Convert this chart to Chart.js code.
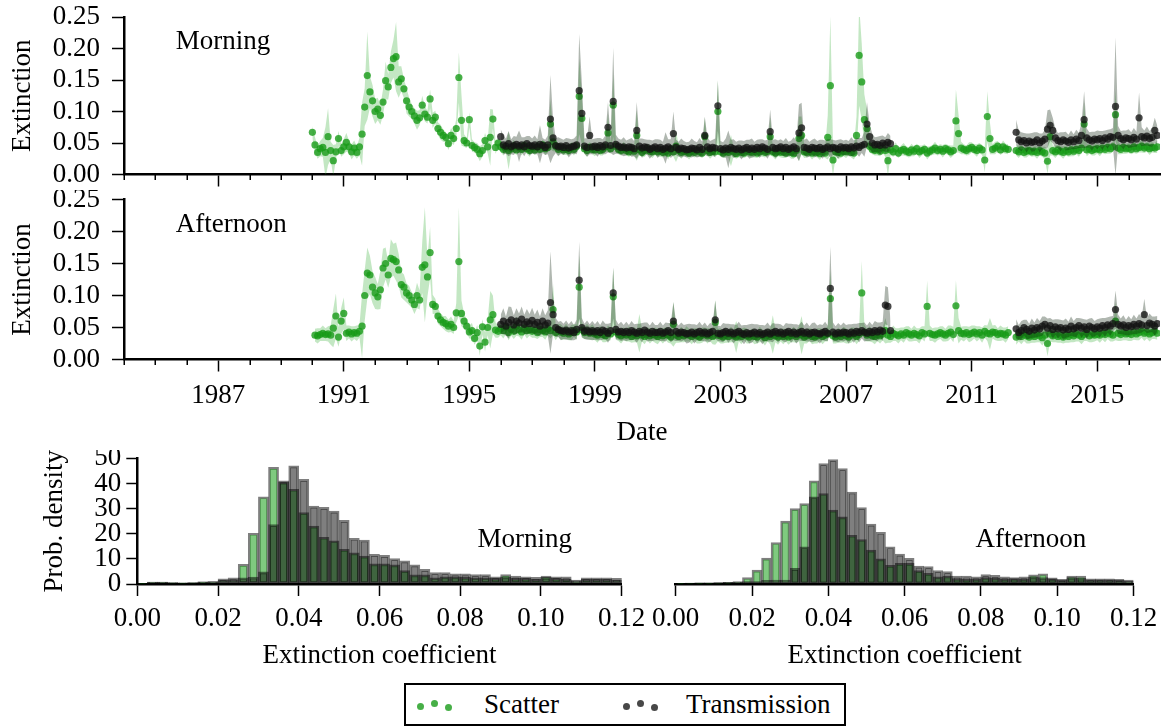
<!DOCTYPE html>
<html>
<head>
<meta charset="utf-8">
<script src="https://cdn.jsdelivr.net/npm/chart.js@4.4.1/dist/chart.umd.min.js"></script>
<style>
html,body{margin:0;padding:0;background:#fff;}
body{width:1164px;height:727px;position:relative;overflow:hidden;font-family:"Liberation Serif",serif;}
canvas{position:absolute;}
#legend{position:absolute;left:404px;top:683px;width:442px;height:43px;box-sizing:border-box;border:2px solid #000;background:#fff;}
#legend .dot{position:absolute;width:7px;height:7px;border-radius:50%;}
#legend .g{background:rgba(25,155,25,0.8);}
#legend .k{background:rgba(20,20,20,0.78);}
#legend .txt{position:absolute;font-size:27px;line-height:30px;top:4px;color:#000;white-space:nowrap;}
</style>
</head>
<body>
<canvas id="tsMorning" width="1164" height="190" style="left:0;top:0"></canvas>
<canvas id="tsAfternoon" width="1164" height="260" style="left:0;top:190px"></canvas>
<canvas id="histMorning" width="660" height="225" style="left:0;top:450px"></canvas>
<canvas id="histAfternoon" width="524" height="225" style="left:640px;top:450px"></canvas>
<div id="legend">
  <span class="dot g" style="left:11px;top:18px"></span>
  <span class="dot g" style="left:25px;top:15px"></span>
  <span class="dot g" style="left:39px;top:19px"></span>
  <span class="txt" style="left:78px">Scatter</span>
  <span class="dot k" style="left:217px;top:18px"></span>
  <span class="dot k" style="left:231px;top:15px"></span>
  <span class="dot k" style="left:245px;top:19px"></span>
  <span class="txt" style="left:280px">Transmission</span>
</div>
<script>
// ---------------- DATA ----------------
// Time series: monthly samples, values in units of 0.001 (extinction)
const SCATTER_START = 1990;   // first month of scatter series
const TRANS_START = 1996;     // first month of transmission series
const yearTicks = [1987, 1991, 1995, 1999, 2003, 2007, 2011, 2015];

const scatterMorning = [
 67,47,35,41,43,35,60,38,22,36,57,38,
 44,51,44,36,42,35,44,64,107,157,131,117,
 100,104,94,115,149,139,170,184,187,147,152,136,
 117,107,100,93,86,90,110,96,91,120,86,91,
 73,67,62,59,49,62,57,73,154,86,54,50,
 87,46,43,40,33,38,54,44,59,88,43,50,
 44,40,42,38,41,45,39,43,40,46,41,38,
 42,39,44,40,47,41,43,80,52,45,40,42,
 39,41,38,43,40,45,124,89,41,38,43,40,
 39,42,38,40,44,66,41,110,45,40,38,42,
 38,36,40,37,62,39,35,38,41,37,36,39,
 36,38,35,37,34,40,36,45,38,35,37,36,
 34,37,35,38,36,34,60,38,35,37,36,100,
 36,34,37,35,38,36,33,37,35,34,38,36,
 35,37,34,36,38,35,37,60,36,34,37,35,
 36,34,37,35,33,38,57,62,36,35,37,34,
 36,35,33,37,34,59,141,23,36,35,34,37,
 36,38,35,34,62,189,147,87,73,45,40,38,
 40,37,42,38,22,39,36,41,34,38,40,37,
 35,39,37,41,36,38,40,34,37,39,42,38,
 40,37,41,39,36,38,85,65,42,40,38,41,
 43,40,38,42,39,23,92,57,40,42,45,39,
 44,41,40,null,null,38,36,39,35,37,38,36,
 37,35,38,36,34,21,60,38,36,39,37,35,
 38,36,39,37,40,38,42,80,39,41,38,40,
 41,39,42,40,43,41,44,95,42,40,43,41,
 42,40,44,41,43,45,42,44,41,43,42,44
];
const scatterMorningErr = [
 10,12,10,12,15,40,45,14,25,12,12,10,
 12,15,10,12,12,10,14,50,30,70,25,25,
 20,18,15,20,30,20,25,30,55,25,20,15,
 20,15,12,12,15,12,15,12,10,15,12,10,
 10,12,10,8,10,12,10,15,40,40,10,8,
 12,10,8,10,12,10,12,10,45,15,10,8,
 8,10,8,30,8,10,8,8,10,8,8,10,
 8,8,10,8,8,10,8,40,15,8,10,8,
 8,10,8,8,10,8,60,40,8,10,8,8,
 10,8,8,10,8,30,8,50,10,8,8,10,
 8,8,10,8,40,8,8,10,8,8,10,8,
 8,10,8,8,10,8,8,25,8,10,8,8,
 10,8,8,10,8,8,30,8,10,8,8,50,
 8,8,10,8,25,8,8,10,8,8,10,8,
 8,10,8,8,10,8,8,30,8,10,8,8,
 10,8,8,10,8,8,35,30,10,8,8,10,
 8,8,10,8,8,35,110,25,8,10,8,8,
 10,8,8,10,30,80,60,40,30,10,8,8,
 10,8,8,10,25,8,8,10,8,8,10,8,
 8,10,8,8,10,8,8,10,8,8,10,8,
 8,10,8,8,10,8,50,30,10,8,8,10,
 8,8,10,8,8,20,40,25,8,10,8,8,
 10,8,8,null,null,8,10,8,8,10,8,8,
 8,10,8,8,10,20,30,8,10,8,8,10,
 8,8,10,8,8,10,8,35,10,8,8,10,
 8,10,8,8,10,8,8,40,10,8,10,8,
 8,8,10,8,8,10,8,8,10,8,8,10
];
const transMorning = [
 60,47,45,49,44,46,48,45,47,44,49,46,
 45,47,44,48,46,43,47,88,58,46,44,45,
 43,46,42,44,45,47,133,97,45,43,62,44,
 45,43,46,44,47,75,46,116,48,45,43,44,
 42,44,43,41,70,45,42,44,43,40,42,44,
 41,43,40,42,44,41,65,43,40,42,41,39,
 40,42,41,39,43,40,62,44,41,43,42,109,
 41,39,42,40,43,41,40,42,39,41,43,40,
 42,40,43,41,44,42,40,68,43,41,42,44,
 41,43,40,42,44,41,66,74,43,42,40,43,
 42,41,43,40,42,44,41,43,42,40,44,42,
 43,41,44,42,45,43,46,48,80,60,50,47,
 48,46,50,47,51,49,null,null,null,null,null,null,
 null,null,null,null,null,null,null,null,null,null,null,null,
 null,null,null,null,null,null,null,null,null,null,null,null,
 null,null,null,null,null,null,null,null,null,null,null,null,
 null,null,null,null,null,67,55,52,54,50,53,51,
 52,55,50,53,56,72,78,70,58,54,52,55,
 53,51,55,52,56,54,62,87,58,55,53,56,
 55,57,54,58,56,60,59,108,62,57,55,58,
 57,55,59,56,90,60,58,61,57,59,70,62
];
const transMorningErr = [
 12,15,12,20,12,15,12,25,12,15,12,15,
 12,15,12,30,12,12,15,70,30,12,15,12,
 12,12,15,12,12,15,90,50,12,15,30,12,
 12,15,12,12,15,40,12,85,15,12,12,15,
 12,12,15,12,45,12,15,12,12,15,12,12,
 15,12,12,25,12,15,35,12,12,15,12,12,
 12,15,12,12,15,12,30,15,12,12,15,40,
 12,12,15,30,12,15,12,12,15,12,12,15,
 15,12,12,15,12,12,15,35,12,15,12,12,
 12,15,12,12,15,12,45,40,12,15,12,12,
 15,12,12,15,12,12,15,12,12,15,12,12,
 12,12,15,12,12,15,12,20,35,20,15,12,
 12,15,12,12,15,12,null,null,null,null,null,null,
 null,null,null,null,null,null,null,null,null,null,null,null,
 null,null,null,null,null,null,null,null,null,null,null,null,
 null,null,null,null,null,null,null,null,null,null,null,null,
 null,null,null,null,null,20,15,15,12,15,12,15,
 15,12,15,12,15,30,25,20,15,12,15,12,
 15,12,15,12,15,12,20,45,15,12,15,12,
 15,12,15,12,15,12,15,110,15,12,15,12,
 15,12,15,12,40,15,12,15,12,15,20,15
];
const scatterAfternoon = [
 null,38,37,39,41,39,40,38,49,68,35,60,
 72,41,43,40,42,41,44,52,100,135,132,113,
 104,98,109,143,150,132,158,156,153,140,117,113,
 104,100,93,86,100,93,144,148,129,167,86,83,
 68,62,58,56,52,55,50,73,153,72,60,52,
 43,45,33,42,21,51,27,50,62,70,46,44,
 48,45,50,42,47,44,52,46,43,49,45,47,
 44,46,42,47,45,43,48,45,78,42,46,43,
 41,44,40,42,45,43,113,46,42,44,41,43,
 40,38,42,39,37,41,40,98,43,39,37,40,
 38,40,36,39,37,41,38,36,40,37,39,38,
 36,39,37,40,38,35,55,38,36,39,37,40,
 38,36,39,37,35,38,40,37,39,36,58,38,
 37,35,38,36,39,37,35,38,36,40,37,35,
 38,36,35,39,37,34,38,36,39,37,35,38,
 36,38,35,37,39,36,40,38,35,37,39,36,
 35,37,39,36,38,40,95,37,35,38,36,39,
 37,35,38,40,36,39,104,42,38,40,37,36,
 39,37,40,45,38,36,41,39,37,40,38,42,
 40,38,41,39,37,42,40,83,41,39,38,40,
 42,40,38,41,43,39,84,45,41,40,42,39,
 41,43,40,42,38,44,41,40,43,42,39,41,
 40,38,42,null,null,35,38,36,39,37,35,38,
 36,39,37,34,38,25,40,37,39,36,38,35,
 38,36,39,37,40,38,36,39,41,37,39,38,
 40,38,41,39,42,40,38,60,41,39,42,40,
 41,39,43,40,42,44,41,43,40,42,44,41
];
const scatterAfternoonErr = [
 null,10,12,10,12,10,12,15,30,35,15,20,
 25,12,10,12,10,12,10,50,40,40,30,25,
 25,20,30,30,25,20,30,25,30,25,20,20,
 15,15,12,15,20,15,40,90,30,40,15,12,
 12,10,10,12,10,12,10,15,85,20,12,10,
 10,12,10,12,15,12,15,12,45,30,12,10,
 10,12,10,12,10,12,15,10,12,10,12,10,
 10,12,10,12,10,12,10,12,40,12,10,12,
 10,12,10,12,10,12,50,12,10,12,10,12,
 10,12,10,12,10,12,10,45,12,10,12,10,
 10,12,10,12,10,30,10,12,10,12,10,12,
 12,10,12,10,12,10,35,12,10,12,10,12,
 10,12,10,12,10,12,10,12,10,12,35,10,
 12,10,12,10,12,10,25,10,12,10,12,10,
 10,12,10,12,10,12,10,12,30,10,12,10,
 12,10,12,10,12,10,12,30,10,12,10,12,
 10,12,10,12,10,12,45,12,10,12,10,12,
 12,10,12,10,12,10,50,12,10,12,10,12,
 10,12,10,20,12,10,12,10,12,10,12,10,
 12,10,12,10,12,10,12,40,12,10,12,10,
 10,12,10,12,10,12,40,20,10,12,10,12,
 12,10,12,10,12,10,12,25,10,12,10,12,
 10,12,10,null,null,12,10,12,10,12,10,12,
 10,12,10,12,10,20,12,10,12,10,12,10,
 12,10,12,10,12,10,12,10,12,10,12,10,
 10,12,10,12,10,12,10,30,12,10,12,10,
 12,10,12,10,12,10,12,10,12,10,12,10
];
const transAfternoon = [
 55,60,52,58,62,54,60,57,63,55,59,56,
 61,55,58,52,60,54,57,89,70,50,47,45,
 44,46,43,45,42,47,124,50,44,46,43,45,
 43,45,42,46,44,41,45,104,47,43,44,42,
 44,42,45,43,41,44,42,46,43,41,44,42,
 42,44,41,43,45,42,60,44,41,43,42,40,
 41,43,40,42,44,41,43,40,42,44,62,41,
 40,42,44,41,43,40,42,44,41,39,42,40,
 41,43,40,42,39,41,43,40,42,44,41,43,
 40,42,44,41,43,40,42,44,41,43,40,42,
 43,41,40,42,44,41,111,43,40,42,41,43,
 42,40,43,41,44,42,45,43,41,44,42,45,
 43,46,44,85,83,45,null,null,null,null,null,null,
 null,null,null,null,null,null,null,null,null,null,null,null,
 null,null,null,null,null,null,null,null,null,null,null,null,
 null,null,null,null,null,null,null,null,null,null,null,null,
 null,null,null,null,null,48,42,45,50,47,44,49,
 46,50,48,52,55,49,53,47,51,48,50,46,
 49,47,52,48,50,53,49,51,47,52,50,48,
 51,49,53,50,54,52,56,78,55,52,54,50,
 53,51,55,52,56,54,70,53,57,55,52,56
];
const transAfternoonErr = [
 15,20,15,25,20,15,20,15,20,15,20,15,
 20,15,20,15,20,15,20,80,30,15,12,15,
 12,15,12,15,12,15,60,15,12,15,12,15,
 12,15,12,15,12,15,12,40,15,12,15,12,
 15,12,15,12,15,12,15,12,15,12,15,12,
 12,15,12,15,12,15,30,15,12,15,12,15,
 15,12,15,12,15,12,15,12,15,12,30,12,
 12,15,12,15,12,15,12,15,12,15,12,15,
 15,12,15,12,15,12,15,12,15,12,15,12,
 12,15,12,15,12,15,12,15,12,15,12,15,
 15,12,15,12,15,12,65,15,12,15,12,15,
 12,15,12,15,12,15,12,15,12,15,12,15,
 15,12,15,30,30,15,null,null,null,null,null,null,
 null,null,null,null,null,null,null,null,null,null,null,null,
 null,null,null,null,null,null,null,null,null,null,null,null,
 null,null,null,null,null,null,null,null,null,null,null,null,
 null,null,null,null,null,15,12,15,12,15,12,15,
 12,15,12,15,12,15,12,15,12,15,12,15,
 15,12,15,12,15,12,15,12,15,12,15,12,
 12,15,12,15,12,15,12,30,15,12,15,12,
 15,12,15,12,15,12,25,12,15,12,15,12
];

// Histograms: 48 bins of width 0.0025 from 0 to 0.12 (probability density)
const BIN_WIDTH = 0.0025;
const histScatterMorning = [0.3,0.8,0.8,0.6,0.5,0.6,0.9,1.0,1.6,1.8,7.8,20.2,34.7,46.4,40.5,37.7,28.4,23,18.6,17.2,13.8,12.4,11.1,8,8,7.6,5.3,3.6,3.6,2.5,2.9,2.9,2.7,2.5,2.5,2.3,3.7,2.3,2.3,1.9,3.2,2.3,2,1.3,1.9,1.9,1.9,1.6];
const histTransMorning   = [0.3,0.8,0.8,0.6,0.5,0.6,0.9,1.0,2.1,2.5,2.5,2.8,4.8,23.6,41,47,41.6,31,30.5,29,25.3,18.2,17.5,11.8,11.4,10.1,9.2,7.6,5.8,4.5,4.5,4.0,4.0,3.7,3.7,2.9,2.9,3.2,2.9,2.7,2.7,2.9,2.9,1.6,2.5,2.5,2.5,2.3];
const histScatterAfternoon = [0.3,0.4,0.5,0.5,0.6,0.7,1.0,2.6,5.5,10.3,16.5,25,30,32,41,36,29.4,26.7,19.4,17.7,13.5,10,7.4,8.2,8.2,5.3,4.2,2.9,3.2,2.2,2,2.1,2.6,2.4,2.1,2.2,2.1,3.6,4,2.1,1.6,3.2,3.2,1.7,1.7,1.7,1.5,1.2];
const histTransAfternoon   = [0.3,0.4,0.5,0.5,0.6,0.7,0.8,1.0,1,1.5,1.6,1.6,6.2,14.8,34.7,47.9,49.5,45.9,36.6,30.4,23.8,20.6,14.8,11.9,10.2,7.1,6.9,5.3,4.9,3.2,3.2,2.9,3.7,3.4,2.9,2.6,2.9,2.9,2.6,2.5,1.9,2.6,2.4,2.1,2.1,2.1,1.9,1.6];

// ---------------- RENDERING ----------------
const FAMILY = '"Liberation Serif", serif';
Chart.defaults.font.family = FAMILY;
Chart.defaults.font.size = 27;
Chart.defaults.color = '#000';
const F = {family: FAMILY, size: 27};

const FONT = '27px "Liberation Serif", serif';
const GREEN_PT = 'rgba(25,155,25,0.8)';
const BLACK_PT = 'rgba(20,20,20,0.78)';
const NONE = 'rgba(0,0,0,0)';

const toPts = (vals, start) => vals.map((v, i) => ({x: start + i / 12, y: v == null ? null : v / 1000}));
const bandPts = (vals, errs, start, sign) => vals.map((v, i) => ({
  x: start + i / 12,
  y: (v == null || errs[i] == null) ? null : (v + sign * errs[i]) / 1000
}));

const minorTicks = {
  id: 'minorTicks',
  afterDraw(chart) {
    const o = chart.options.plugins.minorTicks;
    if (!o || !o.length) return;
    const s = chart.scales.x, ctx = chart.ctx;
    ctx.save();
    ctx.strokeStyle = '#000';
    ctx.lineWidth = 1.5;
    s.ticks.forEach(t => {
      if (yearTicks.includes(t.value) || t.value >= s.max) return;
      const px = Math.round(s.getPixelForValue(t.value)) + 0.25;
      ctx.beginPath();
      ctx.moveTo(px, s.top);
      ctx.lineTo(px, s.top + o.length);
      ctx.stroke();
    });
    ctx.restore();
  }
};
const panelText = {
  id: 'panelText',
  afterDatasetsDraw(chart) {
    const o = chart.options.plugins.panelText;
    if (!o || !o.text) return;
    const ctx = chart.ctx;
    ctx.save();
    ctx.font = FONT;
    ctx.fillStyle = '#000';
    ctx.textAlign = o.align;
    ctx.textBaseline = 'middle';
    ctx.fillText(o.text, chart.scales.x.getPixelForValue(o.x), chart.scales.y.getPixelForValue(o.y));
    ctx.restore();
  }
};

function tsChart(id, cfg) {
  const lineBase = {borderWidth: 0, borderColor: NONE, pointRadius: 0, spanGaps: false, tension: 0};
  return new Chart(document.getElementById(id), {
    type: 'line',
    data: {datasets: [
      Object.assign({data: bandPts(cfg.scat, cfg.scatErr, SCATTER_START, 1), fill: '+1', backgroundColor: 'rgba(40,170,40,0.28)', order: 5}, lineBase),
      Object.assign({data: bandPts(cfg.scat, cfg.scatErr, SCATTER_START, -1), fill: false, order: 5}, lineBase),
      {data: toPts(cfg.scat, SCATTER_START), showLine: false, pointRadius: 3.6, pointBackgroundColor: GREEN_PT, pointBorderColor: NONE, pointBorderWidth: 0, order: 4},
      Object.assign({data: bandPts(cfg.trans, cfg.transErr, TRANS_START, 1), fill: '+1', backgroundColor: 'rgba(10,30,10,0.32)', order: 3}, lineBase),
      Object.assign({data: bandPts(cfg.trans, cfg.transErr, TRANS_START, -1), fill: false, order: 3}, lineBase),
      {data: toPts(cfg.trans, TRANS_START), showLine: false, pointRadius: 3.6, pointBackgroundColor: BLACK_PT, pointBorderColor: NONE, pointBorderWidth: 0, order: 1}
    ]},
    options: {
      responsive: false, animation: false, events: [],
      layout: {padding: {left: 0, right: 4, top: cfg.padTop, bottom: 0}, autoPadding: false},
      plugins: {
        legend: {display: false}, tooltip: {enabled: false},
        minorTicks: {length: 5.5},
        panelText: {text: cfg.label, x: 1985.65, y: 0.21, align: 'left'}
      },
      scales: {
        x: {
          type: 'linear', min: 1984, max: 2017,
          ticks: {stepSize: 1, autoSkip: false, maxRotation: 0, padding: 8, font: F, color: '#000',
                  callback: v => (cfg.showLabels && yearTicks.includes(v)) ? String(v) : ''},
          grid: {drawOnChartArea: false, drawTicks: true, tickLength: 12, tickWidth: 1.5,
                 tickColor: c => (c.tick && yearTicks.includes(c.tick.value)) ? '#000' : NONE},
          border: {display: true, width: 2.5, color: '#000'},
          title: {display: cfg.showLabels, text: 'Date', font: F, color: '#000', padding: {top: 0, bottom: 1}},
          afterFit: s => { s.height = cfg.xH; s.paddingLeft = 0; s.paddingRight = 0; }
        },
        y: {
          min: 0, max: 0.25,
          ticks: {stepSize: 0.05, autoSkip: false, padding: 12, font: F, color: '#000', callback: v => v.toFixed(2)},
          grid: {drawOnChartArea: false, tickLength: 12, tickWidth: 1.5, tickColor: '#000'},
          border: {display: true, width: 2.5, color: '#000'},
          title: {display: true, text: 'Extinction', font: F, color: '#000', padding: {top: 7, bottom: 0}},
          afterFit: s => { s.width = 124; s.paddingTop = 0; s.paddingBottom = 0; }
        }
      }
    },
    plugins: [minorTicks, panelText]
  });
}

function histChart(id, scat, trans, cfg) {
  const barBase = {borderColor: 'rgba(0,0,0,0.5)', borderWidth: 2, borderSkipped: false,
                   grouped: false, barPercentage: 1, categoryPercentage: 1};
  return new Chart(document.getElementById(id), {
    type: 'bar',
    data: {datasets: [
      Object.assign({data: scat.map((v, i) => ({x: (i + 0.5) * BIN_WIDTH, y: v})), backgroundColor: 'rgba(0,150,0,0.5)', order: 2}, barBase),
      Object.assign({data: trans.map((v, i) => ({x: (i + 0.5) * BIN_WIDTH, y: v})), backgroundColor: 'rgba(0,0,0,0.5)', order: 1}, barBase)
    ]},
    options: {
      responsive: false, animation: false, events: [],
      layout: {padding: cfg.padding, autoPadding: false},
      plugins: {
        legend: {display: false}, tooltip: {enabled: false},
        panelText: {text: cfg.label, x: cfg.labelX, y: 17.5, align: 'center'}
      },
      scales: {
        x: {
          type: 'linear', min: 0, max: 0.12, offset: false,
          ticks: {stepSize: 0.02, padding: 7, maxRotation: 0, autoSkip: false, font: F, color: '#000', callback: v => v.toFixed(2)},
          grid: {drawOnChartArea: false, tickLength: 12, tickWidth: 1.5, tickColor: '#000', offset: false},
          border: {display: true, width: 2.5, color: '#000'},
          title: {display: true, text: 'Extinction coefficient', font: F, color: '#000', padding: {top: 0, bottom: 3}},
          afterFit: s => { s.height = 91; s.paddingLeft = 0; s.paddingRight = 0; }
        },
        y: {
          display: cfg.showY, min: 0, max: 50,
          ticks: {stepSize: 10, autoSkip: false, padding: 5, font: F, color: '#000'},
          grid: {drawOnChartArea: false, tickLength: 11, tickWidth: 1.5, tickColor: '#000'},
          border: {display: true, width: 2.5, color: '#000'},
          title: {display: true, text: 'Prob. density', font: F, color: '#000', padding: {top: 39, bottom: 0}},
          afterFit: s => { s.width = cfg.showY ? 137.3 : 0; s.paddingTop = 0; s.paddingBottom = 0; }
        }
      }
    },
    plugins: [panelText]
  });
}

tsChart('tsMorning', {scat: scatterMorning, scatErr: scatterMorningErr, trans: transMorning, transErr: transMorningErr,
  label: 'Morning', padTop: 17, xH: 15.5, showLabels: false});
tsChart('tsAfternoon', {scat: scatterAfternoon, scatErr: scatterAfternoonErr, trans: transAfternoon, transErr: transAfternoonErr,
  label: 'Afternoon', padTop: 9.5, xH: 90.5, showLabels: true});
histChart('histMorning', histScatterMorning, histTransMorning,
  {label: 'Morning', labelX: 0.096, showY: true, padding: {left: 0, right: 38.3, top: 8.3, bottom: 0}});
histChart('histAfternoon', histScatterAfternoon, histTransAfternoon,
  {label: 'Afternoon', labelX: 0.0931, showY: false, padding: {left: 35.7, right: 30.5, top: 8.3, bottom: 0}});
</script>
</body>
</html>
